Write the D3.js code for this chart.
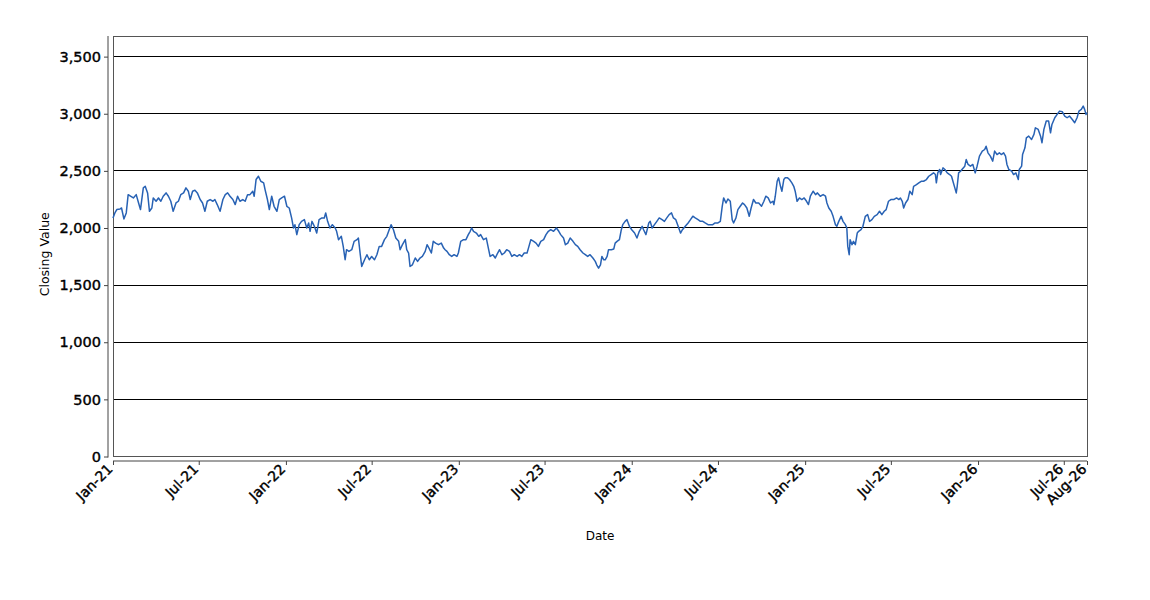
<!DOCTYPE html>
<html>
<head>
<meta charset="utf-8">
<script src="https://cdnjs.cloudflare.com/ajax/libs/d3/7.8.5/d3.min.js"></script>
<style>
  body { margin: 0; background: #fff; }
  text { font-family: "DejaVu Sans", Verdana, sans-serif; }
</style>
</head>
<body>
<svg id="chart" width="1150" height="600"></svg>
<script>
// closing values, [day of year, close] per year
var close2021 = [[1,2088],[5,2132],[9,2161],[16,2167],[19,2175],[24,2079],[29,2132],[33,2292],[38,2278],[44,2263],[50,2292],[55,2219],[59,2161],[65,2351],[69,2365],[74,2307],[78,2146],[83,2175],[86,2263],[92,2234],[97,2263],[102,2234],[107,2278],[113,2307],[118,2278],[123,2234],[128,2146],[134,2219],[139,2234],[144,2292],[150,2307],[155,2351],[160,2322],[164,2249],[169,2322],[174,2330],[179,2307],[185,2249],[190,2219],[195,2146],[200,2234],[206,2249],[212,2234],[216,2249],[221,2205],[227,2146],[233,2249],[238,2292],[243,2307],[248,2278],[254,2249],[259,2205],[264,2278],[269,2234],[275,2249],[280,2234],[285,2292],[290,2292],[296,2322],[299,2278],[303,2424],[308,2453],[313,2409],[319,2395],[322,2336],[327,2249],[331,2161],[336,2278],[341,2190],[347,2146],[352,2249],[357,2263],[363,2278]];
var close2022 = [[3,2190],[8,2175],[13,2088],[17,2000],[20,2029],[24,1942],[29,2029],[34,2058],[40,2073],[45,2000],[49,2044],[52,1971],[56,2058],[61,2015],[66,1956],[71,2073],[77,2088],[82,2088],[85,2132],[89,2058],[94,2000],[99,2029],[105,2000],[108,1971],[112,1898],[118,1927],[122,1839],[126,1722],[129,1810],[134,1795],[140,1810],[145,1883],[151,1898],[154,1912],[158,1766],[161,1664],[167,1722],[172,1766],[177,1722],[182,1751],[188,1722],[193,1766],[198,1839],[203,1839],[209,1898],[214,1927],[219,1985],[223,2029],[228,1985],[233,1912],[239,1883],[242,1810],[247,1854],[253,1898],[256,1810],[260,1781],[263,1664],[268,1678],[274,1737],[279,1708],[284,1737],[289,1751],[295,1795],[299,1854],[303,1824],[308,1781],[312,1883],[317,1868],[323,1854],[329,1868],[334,1824],[337,1810],[341,1795],[346,1766],[351,1751],[356,1766],[362,1751],[365,1781]];
var close2023 = [[5,1883],[11,1898],[16,1898],[21,1942],[25,1971],[28,2000],[32,1971],[38,1956],[43,1927],[47,1942],[53,1898],[59,1912],[64,1810],[67,1751],[73,1766],[78,1737],[83,1781],[87,1810],[92,1766],[97,1781],[102,1810],[108,1795],[113,1751],[118,1766],[124,1751],[129,1766],[134,1751],[139,1781],[145,1781],[148,1824],[153,1898],[159,1883],[164,1868],[169,1839],[174,1883],[180,1898],[185,1942],[190,1971],[195,1985],[201,1971],[207,2000],[212,1971],[216,1942],[222,1912],[226,1854],[231,1868],[236,1912],[242,1883],[247,1854],[252,1839],[257,1810],[263,1781],[268,1766],[273,1751],[278,1766],[284,1737],[289,1708],[292,1678],[296,1649],[300,1678],[303,1751],[307,1722],[310,1722],[314,1751],[317,1810],[323,1810],[328,1816],[331,1868],[335,1883],[340,1898],[344,1985],[347,2029],[352,2058],[356,2073],[361,2015]];
var close2024 = [[1,1985],[7,1956],[12,1912],[17,1971],[23,2015],[26,1985],[31,1942],[37,2044],[40,2058],[44,2000],[49,2029],[54,2058],[59,2088],[65,2073],[70,2058],[75,2088],[80,2117],[85,2132],[89,2088],[94,2073],[99,2015],[104,1956],[108,1985],[114,2015],[120,2044],[125,2073],[130,2103],[135,2088],[141,2073],[146,2058],[151,2058],[156,2044],[162,2029],[167,2029],[172,2029],[177,2044],[183,2044],[188,2058],[192,2190],[195,2263],[200,2219],[204,2254],[209,2234],[213,2073],[216,2044],[221,2088],[225,2161],[230,2190],[235,2219],[239,2205],[244,2175],[249,2103],[253,2175],[258,2249],[263,2219],[269,2219],[275,2190],[280,2234],[284,2278],[289,2263],[294,2219],[299,2234],[301,2205],[304,2278],[308,2409],[311,2439],[315,2365],[318,2322],[322,2424],[325,2439],[330,2439],[334,2424],[339,2395],[343,2365],[346,2322],[350,2234],[355,2263],[360,2249],[365,2263]];
var close2025 = [[4,2234],[8,2205],[12,2278],[18,2322],[23,2292],[27,2307],[33,2278],[39,2292],[44,2278],[47,2219],[51,2175],[56,2146],[60,2102],[65,2029],[68,2015],[72,2058],[77,2102],[81,2058],[86,2029],[89,2000],[91,1839],[94,1766],[96,1898],[100,1854],[103,1883],[107,1854],[111,1956],[114,1971],[119,1985],[123,2015],[128,2102],[133,2117],[137,2058],[142,2073],[147,2102],[153,2117],[158,2146],[163,2117],[168,2146],[172,2161],[177,2234],[182,2249],[188,2249],[194,2263],[199,2249],[202,2263],[206,2234],[209,2175],[213,2219],[218,2249],[222,2322],[227,2292],[230,2365],[236,2380],[241,2395],[246,2409],[251,2409],[257,2424],[262,2453],[267,2468],[272,2483],[276,2468],[278,2395],[281,2483],[285,2512],[287,2468],[292,2526],[296,2512],[301,2482],[306,2468],[310,2453],[313,2409],[317,2351],[320,2307],[322,2365],[325,2482],[329,2497],[332,2512],[338,2541],[341,2599],[345,2556],[350,2541],[355,2556],[360,2482],[364,2541]];
var close2026 = [[4,2629],[10,2673],[15,2687],[18,2716],[22,2658],[27,2629],[32,2585],[36,2673],[41,2643],[46,2658],[50,2643],[55,2658],[59,2629],[62,2556],[66,2512],[72,2497],[76,2468],[81,2482],[86,2424],[88,2512],[93,2541],[95,2643],[100,2702],[103,2789],[108,2804],[114,2775],[119,2819],[122,2877],[128,2863],[133,2804],[136,2746],[140,2863],[145,2936],[150,2936],[154,2833],[157,2906],[163,2965],[168,2994],[173,3023],[179,3017],[184,2980],[189,2965],[194,2980],[200,2950],[205,2921],[210,2965],[214,3023],[219,3038],[223,3067],[226,3038],[229,2994],[231,3009]];

var years = [2021, 2022, 2023, 2024, 2025, 2026];
var yearData = [close2021, close2022, close2023, close2024, close2025, close2026];

var tickDates = ["2021-01-01", "2021-07-01", "2022-01-01", "2022-07-01", "2023-01-01", "2023-07-01",
	"2024-01-01", "2024-07-01", "2025-01-01", "2025-07-01", "2026-01-01", "2026-07-01", "2026-08-19"];
var yTicks = [0, 500, 1000, 1500, 2000, 2500, 3000, 3500];

var svg = d3.select("#chart");

var plotLeft = 113, plotRight = 1087, plotTop = 36, plotBottom = 456.5;

var parseDay = d3.timeParse("%Y-%j");
var parseIso = d3.timeParse("%Y-%m-%d");
var pad3 = d3.format("03d");

var data = [];
years.forEach(function(yr, i) {
	yearData[i].forEach(function(p) {
		data.push({ date: parseDay(yr + "-" + pad3(p[0])), close: p[1] });
	});
});

var x = d3.scaleTime()
	.domain(d3.extent(data, function(d) { return d.date; }))
	.range([plotLeft, plotRight]);

var y = d3.scaleLinear()
	.domain([0, d3.max(data, function(d) { return d.close; }) * 1.2])
	.range([plotBottom, plotTop]);

// gridlines
svg.append("g")
	.selectAll("line")
	.data(yTicks.filter(function(t) { return t > 0; }))
	.enter()
	.append("line")
	.attr("x1", plotLeft)
	.attr("x2", plotRight)
	.attr("y1", function(d) { return y(d); })
	.attr("y2", function(d) { return y(d); })
	.attr("stroke", "#000")
	.attr("stroke-width", 1)
	.attr("shape-rendering", "crispEdges");

// plot border
svg.append("rect")
	.attr("x", plotLeft)
	.attr("y", plotTop)
	.attr("width", plotRight - plotLeft)
	.attr("height", plotBottom - plotTop)
	.attr("fill", "none")
	.attr("stroke", "#555")
	.attr("shape-rendering", "crispEdges");

// the line
var line = d3.line()
	.x(function(d) { return x(d.date); })
	.y(function(d) { return y(d.close); });

svg.append("path")
	.datum(data)
	.attr("d", line)
	.attr("fill", "none")
	.attr("stroke", "#2862b4")
	.attr("stroke-width", 1.5)
	.attr("stroke-linejoin", "round");

// y axis (offset from plot)
var yAxis = d3.axisLeft(y)
	.tickValues(yTicks)
	.tickSize(4)
	.tickPadding(3)
	.tickFormat(d3.format(","));

var gy = svg.append("g")
	.attr("transform", "translate(" + (plotLeft - 5) + ",0)")
	.call(yAxis);
gy.select(".domain").attr("d", "M0," + plotTop + "V" + (plotBottom + 1)).attr("stroke", "#444");
gy.selectAll(".tick line").attr("stroke", "#444");
gy.selectAll("text")
	.style("font-family", "DejaVu Sans")
	.style("font-size", "14.5px")
	.attr("fill", "#000")
	.attr("stroke", "#000")
	.attr("stroke-width", 0.4);

// x axis (offset from plot)
var xAxis = d3.axisBottom(x)
	.tickValues(tickDates.map(parseIso))
	.tickSize(4)
	.tickFormat(d3.timeFormat("%b-%y"));

var gx = svg.append("g")
	.attr("transform", "translate(0," + (plotBottom + 4.5) + ")")
	.call(xAxis);
gx.select(".domain").attr("d", "M" + plotLeft + ",0H" + plotRight).attr("stroke", "#444");
gx.selectAll(".tick line").attr("stroke", "#444");
gx.selectAll("text")
	.style("font-family", "DejaVu Sans")
	.style("font-size", "14px")
	.attr("fill", "#000")
	.attr("stroke", "#000")
	.attr("stroke-width", 0.4)
	.attr("text-anchor", "end")
	.attr("dy", "0")
	.attr("y", 0)
	.attr("transform", "translate(0,9) rotate(-45)");

// axis titles
svg.append("text")
	.attr("transform", "translate(49," + ((plotTop + plotBottom) / 2 + 8) + ") rotate(-90)")
	.attr("text-anchor", "middle")
	.style("font-size", "12.5px")
	.text("Closing Value");

svg.append("text")
	.attr("x", (plotLeft + plotRight) / 2)
	.attr("y", 540)
	.attr("text-anchor", "middle")
	.style("font-size", "12px")
	.text("Date");
</script>
</body>
</html>
